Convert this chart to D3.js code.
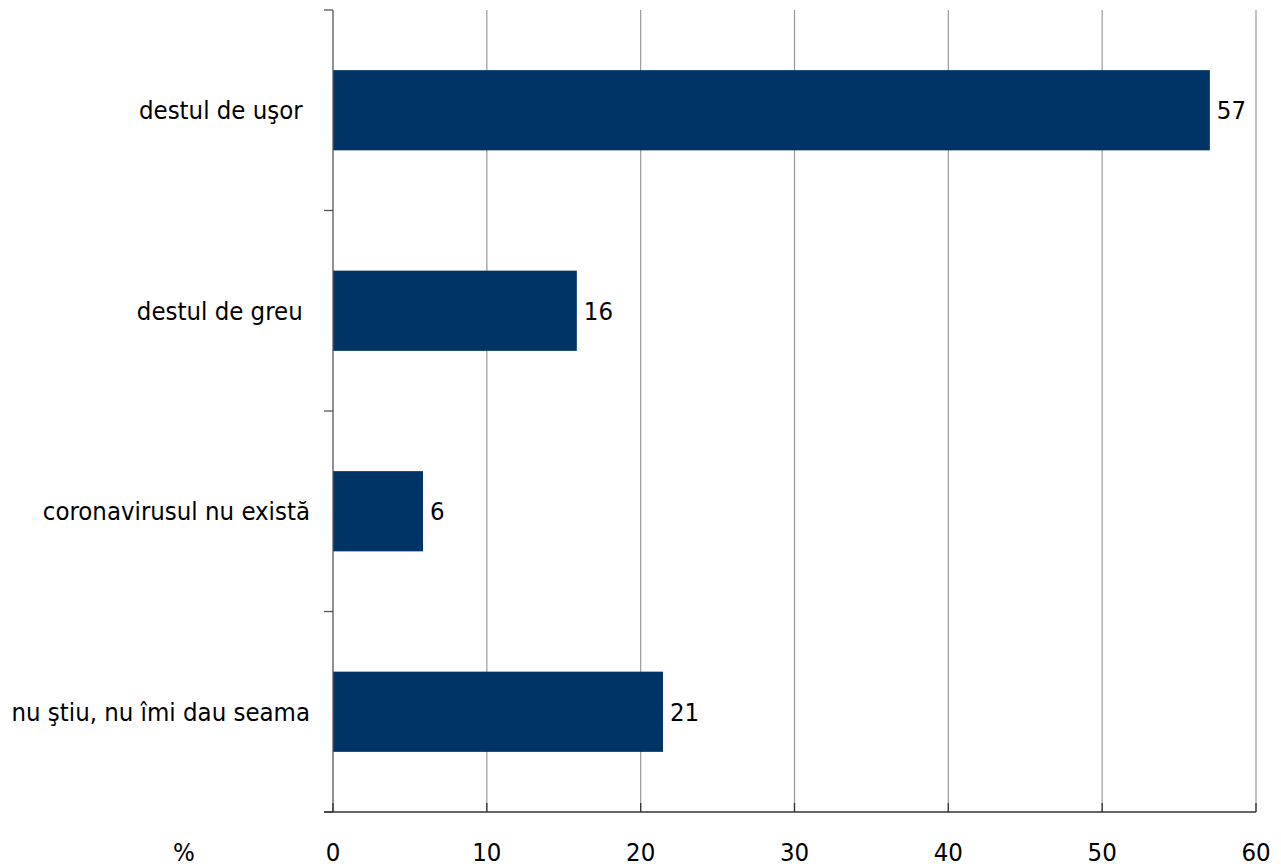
<!DOCTYPE html>
<html><head><meta charset="utf-8">
<script src="https://cdn.jsdelivr.net/npm/d3@7"></script>
<style>body{margin:0;background:#fff}svg{display:block}text{font-family:"DejaVu Sans Condensed","DejaVu Sans",sans-serif;font-stretch:condensed}</style>
</head><body><svg id="c" width="1281" height="864"></svg>
<script>
const categories = ["destul de uşor ", "destul de greu ", "coronavirusul nu există", "nu ştiu, nu îmi dau seama"];
const values = [57.0, 15.85, 5.85, 21.45];
const xTicks = [0, 10, 20, 30, 40, 50, 60];
const axisUnit = "%";

(function () {
const svg = d3.select("#c");
const fs = 25.5;
const mLeft = 333, mRight = 1256, mTop = 10, mBottom = 812;
const x = d3.scaleLinear().domain([0, 60]).range([mLeft, mRight]);
const y = d3.scaleBand().domain(categories).range([mTop, mBottom]).paddingInner(0.6).paddingOuter(0.3);

svg.append("g").selectAll("line").data(xTicks.slice(1)).join("line")
  .attr("x1", d => x(d)).attr("x2", d => x(d)).attr("y1", mTop).attr("y2", mBottom)
  .attr("stroke", "#999").attr("stroke-width", 1.2);

svg.append("g").selectAll("rect").data(values).join("rect")
  .attr("x", x(0)).attr("y", (d, i) => y(categories[i]))
  .attr("width", d => x(d) - x(0)).attr("height", y.bandwidth())
  .attr("fill", "#003366");

svg.append("g").selectAll("text").data(values).join("text")
  .attr("x", d => x(d) + 7).attr("y", (d, i) => y(categories[i]) + y.bandwidth() / 2)
  .attr("dy", "0.35em").attr("font-size", fs).attr("fill", "#000")
  .text(d => d3.format(".0f")(d));

const step = y.step();
const yTickPos = d3.range(categories.length + 1).map(i => mTop + i * step);
svg.append("line").attr("x1", mLeft).attr("x2", mLeft).attr("y1", mTop).attr("y2", mBottom)
  .attr("stroke", "#555").attr("stroke-width", 1.3);
svg.append("g").selectAll("line").data(yTickPos).join("line")
  .attr("x1", mLeft - 9).attr("x2", mLeft).attr("y1", d => d).attr("y2", d => d)
  .attr("stroke", "#555").attr("stroke-width", 1.3);

svg.append("g").selectAll("text").data(categories).join("text")
  .attr("x", 310).attr("y", d => y(d) + y.bandwidth() / 2)
  .attr("dy", "0.35em").attr("text-anchor", "end").attr("font-size", fs)
  .style("white-space", "pre").attr("fill", "#000").text(d => d);

svg.append("line").attr("x1", mLeft - 9).attr("x2", mRight).attr("y1", mBottom).attr("y2", mBottom)
  .attr("stroke", "#333").attr("stroke-width", 1.3);
svg.append("g").selectAll("line").data(xTicks).join("line")
  .attr("x1", d => x(d)).attr("x2", d => x(d)).attr("y1", mBottom - 9).attr("y2", mBottom)
  .attr("stroke", "#333").attr("stroke-width", 1.3);
svg.append("g").selectAll("text").data(xTicks).join("text")
  .attr("x", d => x(d)).attr("y", 852).attr("dy", "0.35em").attr("text-anchor", "middle")
  .attr("font-size", fs).attr("fill", "#000").text(d => d);
svg.append("text").attr("x", 184).attr("y", 852).attr("dy", "0.35em").attr("text-anchor", "middle")
  .attr("font-size", fs).attr("fill", "#000").text(axisUnit);
})();
</script></body></html>
